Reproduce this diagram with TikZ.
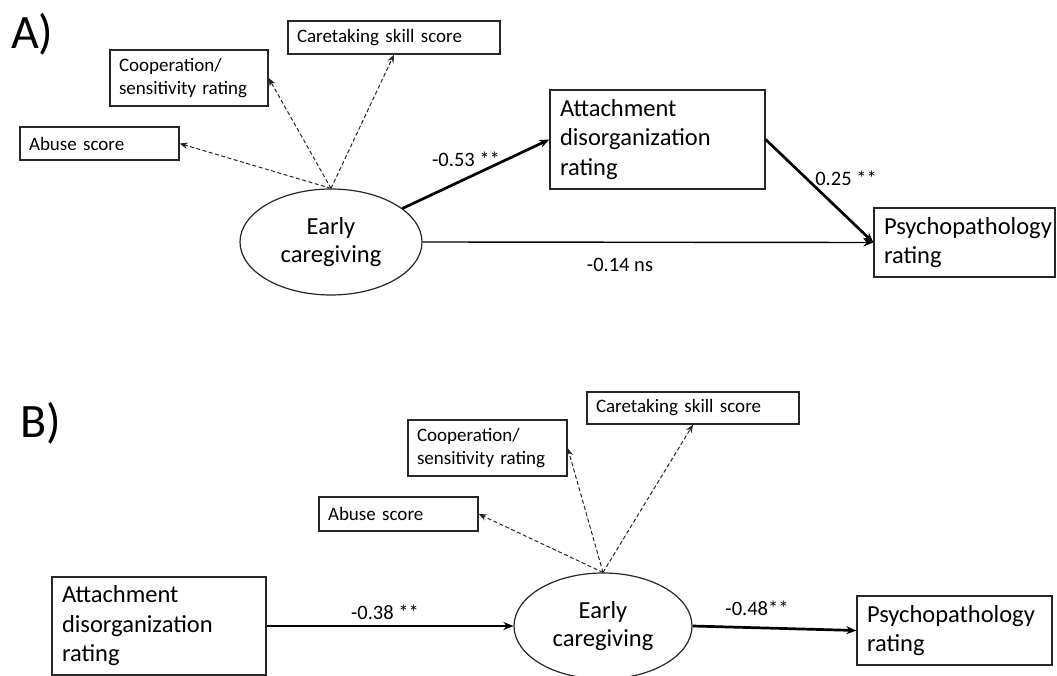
\documentclass[tikz,border=0pt]{standalone}
\usepackage{fontspec}
\setmainfont{Carlito}
\usetikzlibrary{shapes.geometric,arrows.meta}
\tikzset{
  boxsmall/.style={draw=black!85, line width=1.3pt, inner xsep=9pt, inner ysep=0pt, align=left,
    font=\fontsize{19}{23}\selectfont},
  boxbig/.style={draw=black!85, line width=1.3pt, inner xsep=10pt, inner ysep=0pt, align=left,
    font=\fontsize{24.5}{29.5}\selectfont},
  latent/.style={draw=black!85, line width=1.2pt, ellipse, inner sep=0pt, align=center,
    font=\fontsize{24.5}{28.5}\selectfont},
  loadarrow/.style={draw=black!85, line width=1pt, dash pattern=on 4pt off 2.5pt,
    -{Stealth[length=8pt,width=6.5pt]}},
  patharrow/.style={draw=black, line width=2.7pt, -{Stealth[length=10pt,width=8pt]}},
  thinarrow/.style={draw=black, line width=1.4pt, -{Stealth[length=10pt,width=8pt]}},
  coef/.style={font=\fontsize{20.5}{24}\selectfont, inner sep=0pt},
  panel/.style={font=\fontsize{48}{52}\selectfont, inner sep=0pt, anchor=base west}
}
\begin{document}
\begin{tikzpicture}[x=1pt,y=-1pt]
\useasboundingbox (0,0) rectangle (1057,676);
\begin{scope}
\clip (0,0) rectangle (1057,676);
% Panel A
\node[panel] (labA) at (11,49) {A)};
\node[boxsmall, text width=194pt, minimum height=33pt] (careA) at (394,37.5) {Caretaking skill score};
\node[boxsmall, text width=140pt, minimum height=56pt] (coopA) at (189,78) {Cooperation/\\sensitivity rating};
\node[boxsmall, text width=141pt, minimum height=33pt] (abuseA) at (99.5,143.5) {Abuse score};
\node[latent, minimum width=182pt, minimum height=106pt] (ellA) at (331,242) {Early\\caregiving};
\node[boxbig, text width=195pt, minimum height=99pt] (attA) at (657.5,139.5) {Attachment\\disorganization\\rating};
\node[boxbig, text width=161pt, minimum height=69pt] (psyA) at (964.5,242.5) {Psychopathology\\rating};

\draw[loadarrow] (ellA.north) -- (abuseA.east);
\draw[loadarrow] (ellA.north) -- (coopA.east);
\draw[loadarrow] (ellA.north) -- (careA.south);
\draw[patharrow] (ellA) -- (attA.west);
\draw[patharrow] (attA.east) -- (psyA.west);
\draw[thinarrow] (ellA.east) -- (psyA.west);

\node[coef] (cA1) at (466,159) {-0.53 **};
\node[coef] (cA2) at (846,178) {0.25 **};
\node[coef] (cA3) at (620,265) {-0.14 ns};

% Panel B
\node[panel] (labB) at (20,437) {B)};
\node[boxsmall, text width=194pt, minimum height=32pt] (careB) at (693,408) {Caretaking skill score};
\node[boxsmall, text width=141pt, minimum height=56pt] (coopB) at (487.5,448) {Cooperation/\\sensitivity rating};
\node[boxsmall, text width=141pt, minimum height=34pt] (abuseB) at (398.5,514) {Abuse score};
\node[latent, minimum width=178pt, minimum height=106pt] (ellB) at (603,626) {Early\\caregiving};
\node[boxbig, text width=194pt, minimum height=98pt] (attB) at (159,626) {Attachment\\disorganization\\rating};
\node[boxbig, text width=175pt, minimum height=69pt] (psyB) at (954.5,630.5) {Psychopathology\\rating};

\draw[loadarrow] (ellB.north) -- (abuseB.east);
\draw[loadarrow] (ellB.north) -- (coopB.east);
\draw[loadarrow] (ellB.north) -- (careB.south);
\draw[patharrow] (attB.east) -- (ellB.west);
\draw[patharrow] (ellB.east) -- (psyB.west);

\node[coef] (cB1) at (385,612) {-0.38 **};
\node[coef] (cB2) at (757,608) {-0.48**};
\end{scope}
\end{tikzpicture}
\end{document}
